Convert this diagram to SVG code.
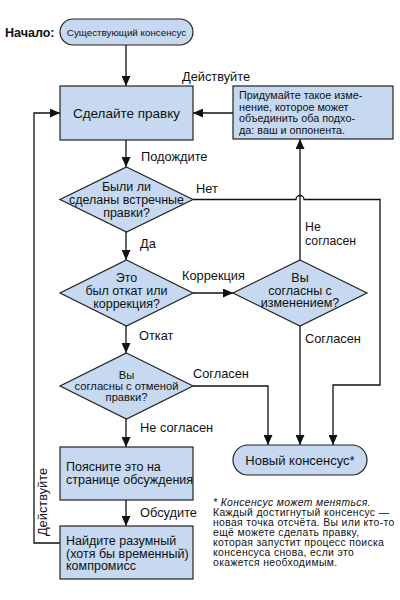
<svg xmlns="http://www.w3.org/2000/svg" width="400" height="600" viewBox="0 0 400 600">
<style>
.n{fill:#c6d9f0;stroke:#222;stroke-width:1.2}
.t{font-family:"Liberation Sans",Arial,sans-serif;font-size:12.5px;fill:#111}
.c{text-anchor:middle}
.l{font-family:"Liberation Sans",Arial,sans-serif;font-size:12.8px;fill:#111}
.e{fill:none;stroke:#111;stroke-width:1.3}
</style>
<defs>
<marker id="a" markerUnits="userSpaceOnUse" markerWidth="10" markerHeight="9" refX="10" refY="4.5" orient="auto">
<path d="M0,0 L10,4.5 L0,9 z" fill="#111"/>
</marker>
</defs>
<rect width="400" height="600" fill="#fff"/>
<g id="connectors">
<path class="e" d="M126,45 V86" marker-end="url(#a)"/>
<path class="e" d="M126,140 V167" marker-end="url(#a)"/>
<path class="e" d="M126,232 V260" marker-end="url(#a)"/>
<path class="e" d="M126,326 V353" marker-end="url(#a)"/>
<path class="e" d="M126,419 V447" marker-end="url(#a)"/>
<path class="e" d="M126,500 V526" marker-end="url(#a)"/>
<path class="e" d="M60,543 H34 V113 H60" marker-end="url(#a)"/>
<path class="e" d="M233,113 H193" marker-end="url(#a)"/>
<path class="e" d="M300,260 V139" marker-end="url(#a)"/>
<path class="e" d="M193,293 H233" marker-end="url(#a)"/>
<path class="e" d="M300,326 V445" marker-end="url(#a)"/>
<path class="e" d="M193,386 H268 V445" marker-end="url(#a)"/>
<path class="e" d="M193,199.5 H296 A4,4 0 0 1 304,199.5 H380 V385 H333 V445" marker-end="url(#a)"/>
</g>
<g id="labels">
<text class="l" x="182" y="81">Действуйте</text>
<text class="l" x="141" y="160.5">Подождите</text>
<text class="l" x="196" y="192.5">Нет</text>
<text class="l" x="140" y="247.5">Да</text>
<text class="l" x="305" y="230.5" style="font-size:12.3px">Не</text>
<text class="l" x="305" y="244.5" style="font-size:12.3px">согласен</text>
<text class="l" x="182" y="279.5">Коррекция</text>
<text class="l" x="139" y="339.5">Откат</text>
<text class="l" x="305" y="342.5">Согласен</text>
<text class="l" x="193" y="377.5">Согласен</text>
<text class="l" x="140" y="431.5">Не согласен</text>
<text class="l" x="140" y="516.5">Обсудите</text>
<text class="l" transform="translate(47,502) rotate(-90)" text-anchor="middle">Действуйте</text>
</g>
<g id="start">
<text x="5" y="37" font-family="Liberation Sans,Arial,sans-serif" font-size="12.5" font-weight="bold" fill="#111">Начало:</text>
<rect class="n" x="60" y="19" width="133" height="26" rx="13"/>
<text class="t c" x="126.5" y="35.5" style="font-size:9.8px">Существующий консенсус</text>
</g>
<g id="edit">
<rect class="n" x="60" y="86" width="133" height="54"/>
<text class="t c" x="126.5" y="118" style="font-size:13.5px">Сделайте правку</text>
</g>
<g id="compromise-idea">
<rect class="n" x="233" y="86" width="160" height="53"/>
<text class="t" x="239" y="99" style="font-size:10.8px">Придумайте такое изме-</text>
<text class="t" x="239" y="110.5" style="font-size:10.8px">нение, которое может</text>
<text class="t" x="239" y="122" style="font-size:10.8px">объединить оба подхо-</text>
<text class="t" x="239" y="133.5" style="font-size:10.8px">да: ваш и оппонента.</text>
</g>
<g id="counter-edits">
<polygon class="n" points="126.5,167 193,199.5 126.5,232 60,199.5"/>
<text class="t c" x="126.5" y="190.5">Были ли</text>
<text class="t c" x="126.5" y="203.5">сделаны встречные</text>
<text class="t c" x="126.5" y="216.5">правки?</text>
</g>
<g id="revert-or-fix">
<polygon class="n" points="126.5,260 193,293 126.5,326 60,293"/>
<text class="t c" x="126.5" y="282">Это</text>
<text class="t c" x="126.5" y="295">был откат или</text>
<text class="t c" x="126.5" y="307.5">коррекция?</text>
</g>
<g id="agree-change">
<polygon class="n" points="300,260 367,293 300,326 233,293"/>
<text class="t c" x="300" y="281.5">Вы</text>
<text class="t c" x="300" y="294.5">согласны с</text>
<text class="t c" x="300" y="307">изменением?</text>
</g>
<g id="agree-revert">
<polygon class="n" points="126.5,353 193,386 126.5,419 60,386"/>
<text class="t c" x="126.5" y="379" style="font-size:11.2px">Вы</text>
<text class="t c" x="126.5" y="390" style="font-size:11.2px">согласны с отменой</text>
<text class="t c" x="126.5" y="401" style="font-size:11.2px">правки?</text>
</g>
<g id="new-consensus">
<rect class="n" x="233" y="445" width="134" height="30" rx="15"/>
<text class="t c" x="300" y="464.5" style="font-size:13px">Новый консенсус*</text>
</g>
<g id="explain">
<rect class="n" x="60" y="447" width="133" height="53"/>
<text class="t" x="66" y="470.5">Поясните это на</text>
<text class="t" x="66" y="483.5">странице обсуждения</text>
</g>
<g id="find-compromise">
<rect class="n" x="60" y="526" width="133" height="53"/>
<text class="t" x="66" y="545">Найдите разумный</text>
<text class="t" x="66" y="557.5">(хотя бы временный)</text>
<text class="t" x="66" y="570">компромисс</text>
</g>
<g id="footnote" font-family="Liberation Sans,Arial,sans-serif" font-size="10.4" letter-spacing="0.35" fill="#111">
<text x="213" y="505.5" font-style="italic">* Консенсус может меняться.</text>
<text x="213" y="515.5">Каждый достигнутый консенсус —</text>
<text x="213" y="525.5">новая точка отсчёта. Вы или кто-то</text>
<text x="213" y="535.5">ещё можете сделать правку,</text>
<text x="213" y="545.5">которая запустит процесс поиска</text>
<text x="213" y="555.5">консенсуса снова, если это</text>
<text x="213" y="565.5">окажется необходимым.</text>
</g>
</svg>
